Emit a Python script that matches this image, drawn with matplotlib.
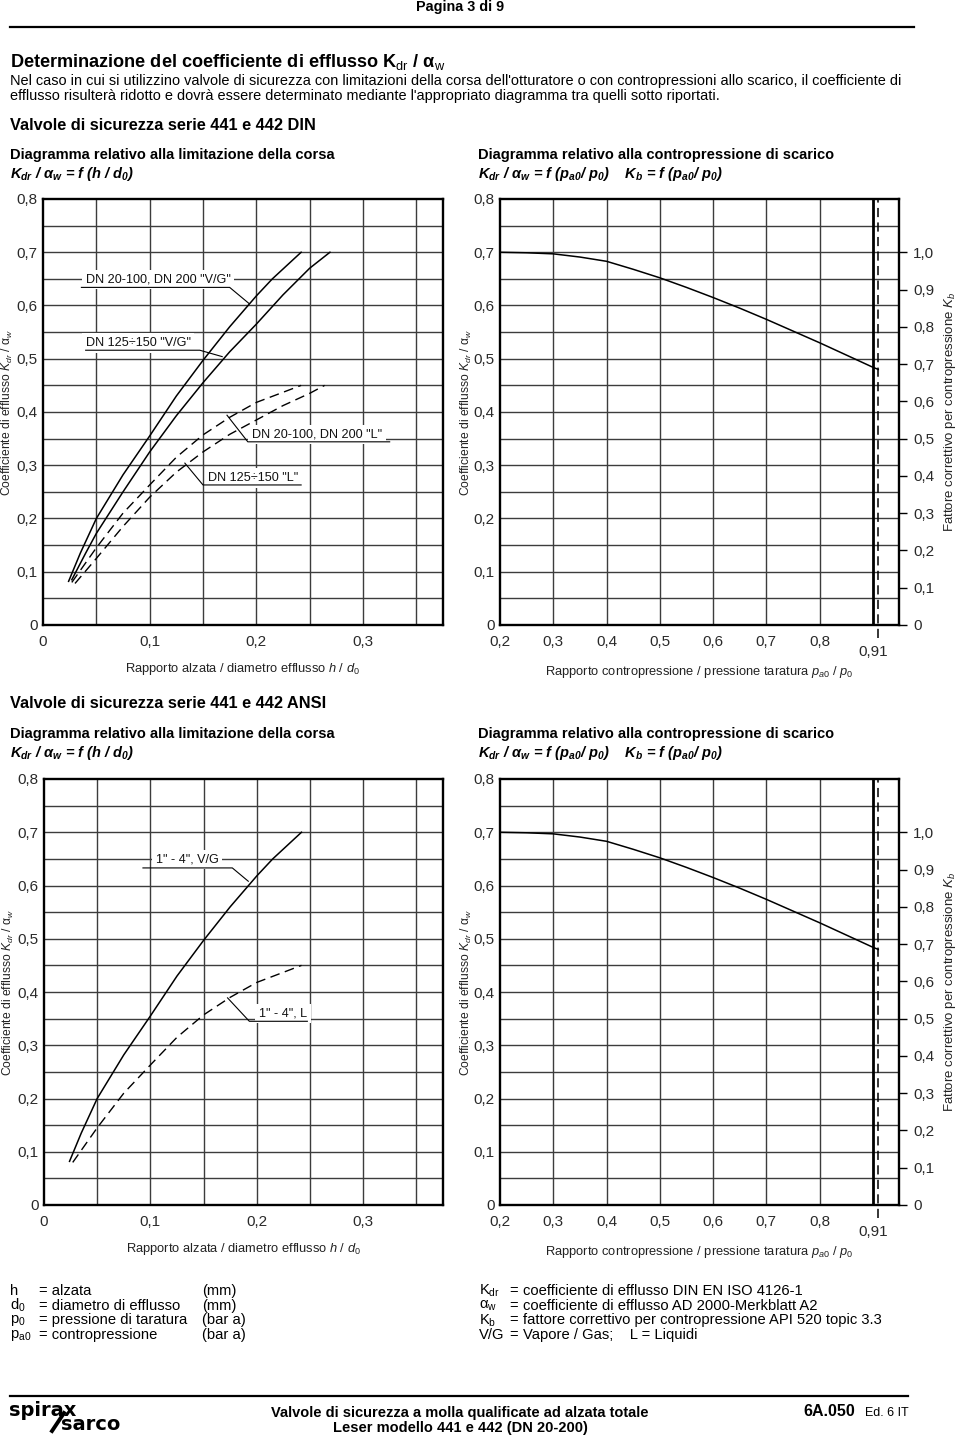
import matplotlib
matplotlib.use("Agg")
import matplotlib.pyplot as plt
import numpy as np

plt.rcParams['font.family'] = ['Liberation Sans', 'DejaVu Sans']
plt.rcParams['mathtext.fontset'] = 'custom'
plt.rcParams['mathtext.rm'] = 'Liberation Sans'
plt.rcParams['mathtext.it'] = 'Liberation Sans:italic'
plt.rcParams['mathtext.bf'] = 'Liberation Sans:bold'
if 'mathtext.bfit' in plt.rcParams:
	plt.rcParams['mathtext.bfit'] = 'Liberation Sans:italic:bold'
	BFIT = r'\mathbfit'
else:
	BFIT = r'\mathbf'

# ---- data ----
# limitazione corsa (h/d0 -> Kdr/aw)
h_vg_din = [0.024, 0.035, 0.05, 0.075, 0.1, 0.125, 0.15, 0.175, 0.2, 0.215, 0.242]
k_vg_din = [0.082, 0.135, 0.20, 0.282, 0.355, 0.43, 0.497, 0.56, 0.618, 0.65, 0.70]

h_vg_125 = [0.027, 0.04, 0.05, 0.075, 0.1, 0.125, 0.15, 0.175, 0.2, 0.225, 0.25, 0.269]
k_vg_125 = [0.085, 0.135, 0.172, 0.25, 0.325, 0.393, 0.455, 0.513, 0.565, 0.62, 0.67, 0.70]

h_l_din = [0.027, 0.05, 0.075, 0.1, 0.125, 0.15, 0.175, 0.2, 0.225, 0.242]
k_l_din = [0.080, 0.145, 0.21, 0.263, 0.315, 0.357, 0.39, 0.418, 0.437, 0.45]

h_l_125 = [0.030, 0.05, 0.075, 0.1, 0.125, 0.15, 0.175, 0.2, 0.225, 0.25, 0.264]
k_l_125 = [0.078, 0.125, 0.185, 0.24, 0.287, 0.325, 0.358, 0.385, 0.412, 0.435, 0.45]

# contropressione (pa0/p0 -> Kdr/aw)
pr = [0.2, 0.25, 0.3, 0.35, 0.4, 0.45, 0.5, 0.55, 0.6, 0.65, 0.7, 0.75, 0.8, 0.85, 0.9, 0.91]
k_pr = [0.700, 0.699, 0.697, 0.691, 0.683, 0.668, 0.652, 0.634, 0.615, 0.595, 0.574, 0.552,
	0.530, 0.507, 0.484, 0.480]

y_ticks = [0, 0.1, 0.2, 0.3, 0.4, 0.5, 0.6, 0.7, 0.8]
y_labels = ['0', '0,1', '0,2', '0,3', '0,4', '0,5', '0,6', '0,7', '0,8']
h_ticks = [0, 0.1, 0.2, 0.3]
h_labels = ['0', '0,1', '0,2', '0,3']
p_ticks = [0.2, 0.3, 0.4, 0.5, 0.6, 0.7, 0.8]
p_labels = ['0,2', '0,3', '0,4', '0,5', '0,6', '0,7', '0,8']
kb_ticks = [0, 0.1, 0.2, 0.3, 0.4, 0.5, 0.6, 0.7, 0.8, 0.9, 1.0]
kb_labels = ['0', '0,1', '0,2', '0,3', '0,4', '0,5', '0,6', '0,7', '0,8', '0,9', '1,0']

W, H = 960, 1437
GRID = '#3c3c3c'
TICK = '#2a2a2a'

fig = plt.figure(figsize=(W / 100, H / 100), dpi=100)


def px_rect(x0, y0, x1, y1):
	return [x0 / W, 1 - y1 / H, (x1 - x0) / W, (y1 - y0) / H]


def ftext(x, y, s, **kw):
	kw.setdefault('va', 'center')
	kw.setdefault('ha', 'left')
	fig.text(x / W, 1 - y / H, s, **kw)


def sub(s):
	return r'$_{\mathrm{%s}}$' % s


def base_axes(rect, xlim):
	ax = fig.add_axes(px_rect(*rect))
	ax.set_xlim(*xlim)
	ax.set_ylim(0, 0.8)
	for v in np.arange(0.05, 0.76, 0.05):
		ax.axhline(v, color=GRID, lw=1.0, zorder=1)
	for s in ax.spines.values():
		s.set_linewidth(1.7)
		s.set_zorder(6)
	ax.set_yticks(y_ticks)
	ax.set_yticklabels(y_labels)
	ax.tick_params(length=0, labelsize=11, labelcolor=TICK)
	ax.tick_params(axis='y', pad=4)
	ax.tick_params(axis='x', pad=7)
	ax.set_ylabel(r'Coefficiente di efflusso $K_{dr}$ / α$_w$', fontsize=8.7, color='#222')
	return ax


def tag(ax, text, tx, ty, line_x, line_y):
	ax.text(tx, ty, text, fontsize=9.1, va='center', ha='left', color='#111',
		bbox=dict(boxstyle='square,pad=0.3', fc='white', ec='none'), zorder=3)
	ax.plot(line_x, line_y, color='black', lw=0.8, zorder=5)


def lift_chart(rect, curves):
	ax = base_axes(rect, (0, 0.375))
	for v in np.arange(0.05, 0.36, 0.05):
		ax.axvline(v, color=GRID, lw=1.0, zorder=1)
	for xs, ys, dashed in curves:
		if dashed:
			ax.plot(xs, ys, color='black', lw=1.0, dashes=(7, 4), zorder=4)
		else:
			ax.plot(xs, ys, color='black', lw=1.1, zorder=4)
	ax.set_xticks(h_ticks)
	ax.set_xticklabels(h_labels)
	ax.set_xlabel(r'Rapporto alzata / diametro efflusso $h$ / $d_0$', fontsize=9.3, color='#222', labelpad=9)
	ax.yaxis.set_label_coords(-0.07, 0.5)
	return ax


def back_chart(rect):
	ax = base_axes(rect, (0.2, 0.949))
	for v in np.arange(0.3, 0.81, 0.1):
		ax.axvline(v, color=GRID, lw=1.0, zorder=1)
	ax.axvline(0.9, color='black', lw=2.0, zorder=4)
	ax.plot([0.909, 0.909], [-0.024, 0.8], color='black', lw=1.1, dashes=(6, 3.5), zorder=4, clip_on=False)
	ax.plot(pr, k_pr, color='black', lw=1.1, zorder=4)
	ax.set_xticks(p_ticks)
	ax.set_xticklabels(p_labels)
	ax.text(0.9, -0.051, '0,91', fontsize=11, color=TICK, ha='center', va='center')
	ax.set_xlabel(r'Rapporto contropressione / pressione taratura $p_{a0}$ / $p_0$', fontsize=9.3,
		color='#222', labelpad=11)
	ax.yaxis.set_label_coords(-0.066, 0.5)
	kb = ax.twinx()
	kb.set_ylim(0, 0.8 / 0.7)
	kb.set_yticks(kb_ticks)
	kb.set_yticklabels(kb_labels)
	kb.tick_params(axis='y', length=6, width=1.0, pad=4, labelsize=11, labelcolor=TICK)
	for s in kb.spines.values():
		s.set_visible(False)
	kb.set_ylabel(r'Fattore correttivo per contropressione $K_b$', fontsize=9.5, color='#222', labelpad=6)
	return ax


# ---- header ----
ftext(460, 7, 'Pagina 3 di 9', fontsize=10.4, weight='bold', ha='center')
fig.add_artist(plt.Line2D([10 / W, 914 / W], [1 - 27 / H, 1 - 27 / H], color='black', lw=1.6))
ftext(10, 62, r'Determinazione del coefficiente di efflusso K' + sub('dr') + ' / α' + sub('w'),
	fontsize=13.1, weight='bold')
ftext(10, 81, "Nel caso in cui si utilizzino valvole di sicurezza con limitazioni della corsa dell'otturatore "
	"o con contropressioni allo scarico, il coefficiente di", fontsize=10.45)
ftext(10, 96, "efflusso risulterà ridotto e dovrà essere determinato mediante l'appropriato diagramma "
	"tra quelli sotto riportati.", fontsize=10.45)

form_h = r'K$_{B{dr}}$ / α$_{B{w}}$ = f (h / d$_{B{0}}$)'.replace('B{', BFIT + '{')
form_p = (r'K$_{B{dr}}$ / α$_{B{w}}$ = f (p$_{B{a0}}$/ p$_{B{0}}$)    '
	r'K$_{B{b}}$ = f (p$_{B{a0}}$/ p$_{B{0}}$)').replace('B{', BFIT + '{')

for top, series in ((125, 'DIN'), (704, 'ANSI')):
	ftext(10, top, 'Valvole di sicurezza serie 441 e 442 ' + series, fontsize=11.8, weight='bold')
	ftext(10, top + 30, 'Diagramma relativo alla limitazione della corsa', fontsize=10.5, weight='bold')
	ftext(10, top + 49, form_h, fontsize=10.5, weight='bold', style='italic')
	ftext(478, top + 30, 'Diagramma relativo alla contropressione di scarico', fontsize=10.5, weight='bold')
	ftext(478, top + 49, form_p, fontsize=10.5, weight='bold', style='italic')

# ---- DIN ----
ax1 = lift_chart((43, 199, 443, 625), [
	(h_vg_din, k_vg_din, False),
	(h_vg_125, k_vg_125, False),
	(h_l_din, k_l_din, True),
	(h_l_125, k_l_125, True),
])
tag(ax1, 'DN 20-100, DN 200 "V/G"', 0.040, 0.649, [0.036, 0.175, 0.193], [0.634, 0.634, 0.604])
tag(ax1, 'DN 125÷150 "V/G"', 0.040, 0.530, [0.040, 0.147, 0.168], [0.516, 0.516, 0.504])
tag(ax1, 'DN 20-100, DN 200 "L"', 0.196, 0.358, [0.325, 0.192, 0.1725], [0.344, 0.344, 0.394])
tag(ax1, 'DN 125÷150 "L"', 0.155, 0.276, [0.242, 0.150, 0.133], [0.263, 0.263, 0.304])

back_chart((500, 199, 899, 625))

# ---- ANSI ----
ax3 = lift_chart((44, 779, 443, 1205), [
	(h_vg_din, k_vg_din, False),
	(h_l_din, k_l_din, True),
])
tag(ax3, '1" - 4", V/G', 0.105, 0.649, [0.093, 0.177, 0.192], [0.633, 0.633, 0.608])
tag(ax3, '1" - 4", L', 0.202, 0.360, [0.2475, 0.193, 0.1725], [0.345, 0.345, 0.389])

back_chart((500, 779, 899, 1205))

# ---- legenda ----
left_rows = [('h', '= alzata', '(mm)'),
	('d' + sub('0'), '= diametro di efflusso', '(mm)'),
	('p' + sub('0'), '= pressione di taratura', '(bar a)'),
	('p' + sub('a0'), '= contropressione', '(bar a)')]
right_rows = [('K' + sub('dr'), '=', 'coefficiente di efflusso DIN EN ISO 4126-1'),
	('α' + sub('w'), '=', 'coefficiente di efflusso AD 2000-Merkblatt A2'),
	('K' + sub('b'), '=', 'fattore correttivo per contropressione API 520 topic 3.3'),
	('V/G', '=', 'Vapore / Gas;    L = Liquidi')]
for i, (a, b, c) in enumerate(left_rows):
	y = 1291 + i * 14.7
	ftext(10, y, a, fontsize=10.6)
	ftext(39, y, b, fontsize=10.6)
	ftext(202, y, c, fontsize=10.6)
for i, (a, b, c) in enumerate(right_rows):
	y = 1291 + i * 14.7
	ftext(479, y, a, fontsize=10.6)
	ftext(509, y, b, fontsize=10.6)
	ftext(523, y, c, fontsize=10.6)

# ---- footer ----
fig.add_artist(plt.Line2D([10 / W, 908 / W], [1 - 1396 / H, 1 - 1396 / H], color='black', lw=1.6))
ftext(9, 1410, 'spirax', fontsize=14, weight='bold', family='DejaVu Sans')
fig.add_artist(plt.Line2D([52 / W, 64 / W], [1 - 1431 / H, 1 - 1413 / H], color='black', lw=2.8))
ftext(61, 1424, 'sarco', fontsize=14, weight='bold', family='DejaVu Sans')
ftext(460, 1413, 'Valvole di sicurezza a molla qualificate ad alzata totale', fontsize=10.5,
	weight='bold', ha='center')
ftext(460, 1428, 'Leser modello 441 e 442 (DN 20-200)', fontsize=10.5, weight='bold', ha='center')
ftext(803, 1412, '6A.050', fontsize=11.5, weight='bold')
ftext(865, 1413, 'Ed. 6 IT', fontsize=9)

fig.savefig('out.png', dpi=100)
